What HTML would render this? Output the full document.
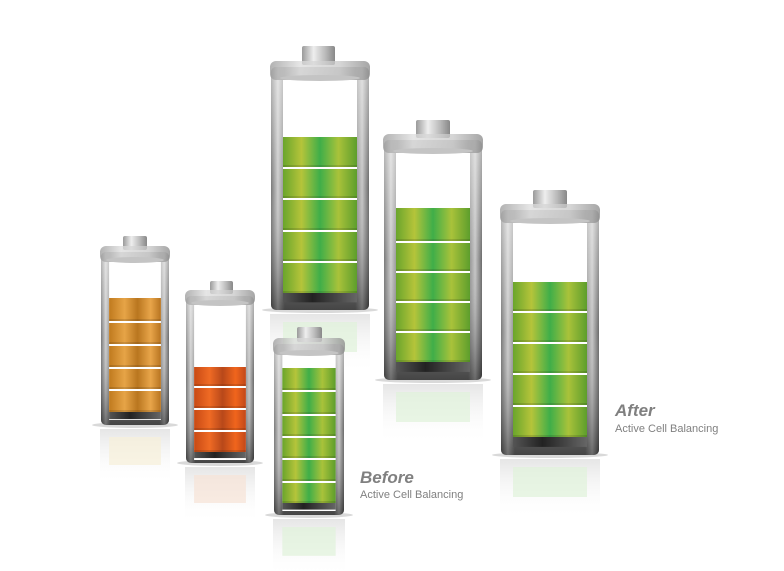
<!DOCTYPE html>
<html><head><meta charset="utf-8"><style>
html,body{margin:0;padding:0;background:#fff;width:784px;height:571px;overflow:hidden}
svg{display:block}
</style></head><body>
<svg id="s" width="784" height="571" viewBox="0 0 784 571" xmlns="http://www.w3.org/2000/svg">
<defs>
<linearGradient id="body" x1="0" x2="1" y1="0" y2="0">
<stop offset="0" stop-color="#6a6a6a"/><stop offset="0.07" stop-color="#c8c8c8"/><stop offset="0.14" stop-color="#7d7d7d"/><stop offset="0.86" stop-color="#7d7d7d"/><stop offset="0.93" stop-color="#c0c0c0"/><stop offset="1" stop-color="#5a5a5a"/>
</linearGradient>
<linearGradient id="bodyv" x1="0" x2="0" y1="0" y2="1">
<stop offset="0" stop-color="#fff" stop-opacity="0.55"/><stop offset="0.5" stop-color="#fff" stop-opacity="0.1"/><stop offset="1" stop-color="#000" stop-opacity="0.45"/>
</linearGradient>
<linearGradient id="cap" x1="0" x2="1"><stop offset="0" stop-color="#9a9a9a"/><stop offset="0.35" stop-color="#eee"/><stop offset="0.7" stop-color="#bbb"/><stop offset="1" stop-color="#888"/></linearGradient>
<linearGradient id="rim" x1="0" x2="1"><stop offset="0" stop-color="#999"/><stop offset="0.3" stop-color="#ddd"/><stop offset="0.7" stop-color="#c8c8c8"/><stop offset="1" stop-color="#888"/></linearGradient>
<linearGradient id="dark" x1="0" x2="1"><stop offset="0" stop-color="#555"/><stop offset="0.4" stop-color="#222"/><stop offset="0.7" stop-color="#444"/><stop offset="1" stop-color="#666"/></linearGradient>
<linearGradient id="g" x1="0" x2="1"><stop offset="0" stop-color="#6aa52c"/><stop offset="0.25" stop-color="#b5c43a"/><stop offset="0.5" stop-color="#3fae49"/><stop offset="0.75" stop-color="#a9c23a"/><stop offset="1" stop-color="#5d9e2c"/></linearGradient>
<linearGradient id="o" x1="0" x2="1"><stop offset="0" stop-color="#c07a1e"/><stop offset="0.3" stop-color="#e6a447"/><stop offset="0.55" stop-color="#b9761f"/><stop offset="0.8" stop-color="#e8a54a"/><stop offset="1" stop-color="#b87420"/></linearGradient>
<linearGradient id="r" x1="0" x2="1"><stop offset="0" stop-color="#c84a14"/><stop offset="0.3" stop-color="#ef6a24"/><stop offset="0.55" stop-color="#b8481a"/><stop offset="0.8" stop-color="#f0651c"/><stop offset="1" stop-color="#c2481a"/></linearGradient>
<linearGradient id="refl" x1="0" x2="0" y1="0" y2="1"><stop offset="0" stop-color="#ccc" stop-opacity="0.5"/><stop offset="1" stop-color="#fff" stop-opacity="0"/></linearGradient>
</defs>
<g id="bats"></g>
<text x="360" y="483" font-family="Liberation Sans, sans-serif" font-size="17" font-style="italic" font-weight="bold" fill="#808080">Before</text>
<text x="360" y="498" font-family="Liberation Sans, sans-serif" font-size="11" fill="#808080">Active Cell Balancing</text>
<text x="615" y="416" font-family="Liberation Sans, sans-serif" font-size="17" font-style="italic" font-weight="bold" fill="#808080">After</text>
<text x="615" y="432" font-family="Liberation Sans, sans-serif" font-size="11" fill="#808080">Active Cell Balancing</text>
</svg>
<script>
var NS="http://www.w3.org/2000/svg",G=document.getElementById("bats");
function el(t,a){var e=document.createElementNS(NS,t);for(var k in a)e.setAttribute(k,a[k]);G.appendChild(e);return e;}
function bat(b){
 var w=b.x1-b.x0,ix0=b.x0+w*0.13,ix1=b.x1-w*0.13;
 el("rect",{x:b.x0,y:b.bb+4,width:w,height:Math.min(60,w*0.8),fill:"url(#refl)"});
 el("rect",{x:ix0,y:b.bb+12,width:ix1-ix0,height:Math.min(30,w*0.4),fill:b.c=="g"?"#dff2da":(b.c=="o"?"#f7efd8":"#f7e2d6"),opacity:0.7});
 el("ellipse",{cx:(b.x0+b.x1)/2,cy:b.bb,rx:w/2+8,ry:3,fill:"#000",opacity:0.15});
 el("rect",{x:b.x0+1,y:b.rt+6,width:w-2,height:b.bb-b.rt-6,rx:5,fill:"url(#body)"});
 el("rect",{x:b.x0+1,y:b.rt+6,width:w-2,height:b.bb-b.rt-6,rx:5,fill:"url(#bodyv)"});
 el("rect",{x:ix0,y:b.rb,width:ix1-ix0,height:b.fb-b.rb+8,fill:"#fff"});
 el("rect",{x:ix0,y:b.fb,width:ix1-ix0,height:(b.bb-b.fb)*0.55,fill:"url(#dark)"});
 var tops=[b.ft].concat(b.gaps.map(function(g){return g+2;})),bots=b.gaps.concat([b.fb]);
 for(var i=0;i<tops.length;i++){
  el("rect",{x:ix0,y:tops[i],width:ix1-ix0,height:bots[i]-tops[i],fill:"url(#"+b.c+")"});
  el("rect",{x:ix0,y:bots[i]-2,width:ix1-ix0,height:2,fill:"#000",opacity:0.12});
 }
 el("rect",{x:b.cx0,y:b.ct,width:b.cx1-b.cx0,height:b.rt-b.ct+4,rx:2,fill:"url(#cap)"});
 el("rect",{x:b.x0,y:b.rt,width:w,height:b.rb-b.rt,rx:6,fill:"url(#rim)",opacity:0.75});
 el("ellipse",{cx:(b.x0+b.x1)/2,cy:b.rb-2,rx:(ix1-ix0)/2+3,ry:3,fill:"#c4c4c4"});
}
bat({x0:100,x1:170,cx0:123,cx1:147,ct:236,rt:246,rb:262,bb:425,ft:298,gaps:[321,344,367,389],fb:412,c:"o"});
bat({x0:185,x1:255,cx0:210,cx1:233,ct:281,rt:290,rb:305,bb:463,ft:367,gaps:[386,408,430],fb:452,c:"r"});
bat({x0:270,x1:370,cx0:302,cx1:335,ct:46,rt:61,rb:80,bb:310,ft:137,gaps:[167,198,230,261],fb:293,c:"g"});
bat({x0:383,x1:483,cx0:416,cx1:450,ct:120,rt:134,rb:153,bb:380,ft:208,gaps:[241,271,301,331],fb:362,c:"g"});
bat({x0:500,x1:600,cx0:533,cx1:567,ct:190,rt:204,rb:223,bb:455,ft:282,gaps:[311,342,373,405],fb:437,c:"g"});
bat({x0:273,x1:345,cx0:297,cx1:322,ct:327,rt:338,rb:355,bb:515,ft:368,gaps:[390,414,436,458,481],fb:503,c:"g"});
</script>
</body></html>
